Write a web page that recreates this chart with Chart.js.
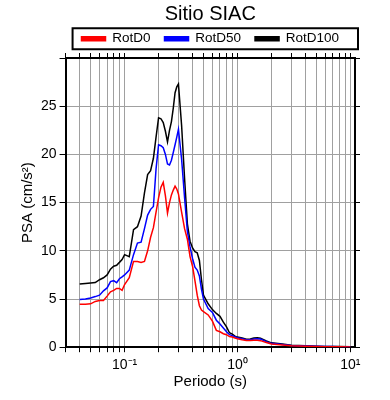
<!DOCTYPE html>
<html><head><meta charset="utf-8">
<script src="https://cdn.jsdelivr.net/npm/chart.js@4.4.1/dist/chart.umd.min.js"></script>
<style>html,body{margin:0;padding:0;background:#fff;}</style>
</head><body>
<canvas id="c" width="390" height="400"></canvas>
<script>
const periods = [0.04,0.045,0.05,0.055,0.06,0.065,0.07,0.075,0.08,0.085,0.09,0.095,
  0.1,0.11,0.12,0.13,0.14,0.15,0.16,0.17,0.18,0.19,0.2,0.21,0.22,0.23,0.24,0.25,0.26,0.27,0.28,0.29,0.3,
  0.32,0.34,0.36,0.38,0.4,0.42,0.44,0.46,0.48,0.5,
  0.55,0.6,0.65,0.7,0.75,0.8,0.85,0.9,0.95,
  1.0,1.1,1.2,1.3,1.4,1.5,1.6,1.8,2.0,2.5,3.0,3.5,4.0,5.0,6.0,7.0,8.0,10];
const rotD0 = [4.45,4.45,4.5,4.75,4.85,4.85,5.3,5.75,5.9,6.1,6.1,5.9,
  6.5,7.2,8.9,8.9,8.8,8.9,10.0,11.4,12.4,14.0,15.5,16.6,17.1,15.7,13.9,15.0,15.8,16.3,16.7,16.4,15.9,
  14.0,12.3,11.2,9.4,8.4,6.9,5.4,4.3,3.85,3.7,
  3.35,2.7,1.75,1.6,1.4,1.3,1.1,1.05,0.95,
  0.88,0.78,0.7,0.7,0.72,0.72,0.68,0.48,0.34,0.24,0.16,0.12,0.1,0.07,0.05,0.05,0.04,0.03];
const rotD50 = [4.95,5.0,5.1,5.25,5.4,5.85,6.15,6.8,6.9,6.7,7.1,7.3,
  7.5,8.0,9.6,10.8,10.9,12.3,13.7,14.3,14.6,18.5,21.0,20.9,20.7,20.0,19.0,18.9,19.4,20.2,21.0,21.8,22.6,
  19.5,15.5,12.0,10.4,9.2,8.3,8.0,7.4,6.0,5.0,
  4.0,3.6,2.8,2.4,2.0,1.6,1.3,1.2,1.08,
  0.98,0.88,0.78,0.78,0.85,0.88,0.84,0.58,0.4,0.28,0.18,0.15,0.12,0.09,0.07,0.06,0.05,0.04];
const rotD100 = [6.55,6.6,6.65,6.7,7.0,7.2,7.5,8.1,8.4,8.5,8.8,9.1,
  9.6,9.4,12.2,12.5,13.6,16.0,17.9,18.3,19.6,21.8,23.8,23.7,23.3,22.4,21.3,22.5,23.4,24.8,26.4,27.0,27.3,
  23.0,17.5,12.8,11.0,10.3,9.9,9.8,9.0,7.0,5.4,
  4.5,3.9,3.5,3.2,2.6,2.1,1.5,1.35,1.15,
  1.05,0.95,0.82,0.85,0.95,0.97,0.92,0.65,0.45,0.33,0.21,0.17,0.14,0.1,0.08,0.07,0.06,0.05];

const xTickValues = [0.03,0.04,0.05,0.06,0.07,0.08,0.09,0.1,0.2,0.3,0.4,0.5,0.6,0.7,0.8,0.9,1,2,3,4,5,6,7,8,9,10];
const xTickLabels = [[0.1,'10\u207B\u00B9'],[1,'10\u2070'],[10,'10\u00B9']];
const yTickValues = [0,5,10,15,20,25,30];
const yTickLabels = ['0','5','10','15','20','25',''];

const FONT = "'Liberation Sans', Arial, Helvetica, sans-serif";
Chart.defaults.font.family = FONT;
Chart.defaults.color = '#000';

function xLabel(v){
  for (const [t,l] of xTickLabels) if (Math.abs(v - t) < 1e-9) return l;
  return '';
}
const toPts = arr => periods.map((p,i)=>({x:p, y:arr[i]}));

const legendFrame = {
  id:'legendFrame',
  afterDraw(chart){
    const lg = chart.legend, ca = chart.chartArea, ctx = chart.ctx;
    if (!lg || !lg.legendHitBoxes || !lg.legendHitBoxes.length) return;
    const hb = lg.legendHitBoxes[0];
    const cy = hb.top + hb.height/2;
    ctx.save();
    ctx.strokeStyle = '#000'; ctx.lineWidth = 2;
    ctx.strokeRect(ca.left + 7, cy - 10.5, ca.right - ca.left - 4, 21);
    ctx.restore();
  }
};

const gridGray = '#a0a0a0';
new Chart(document.getElementById('c'), {
  type:'line',
  data:{
    datasets:[
      {label:'RotD0', data:toPts(rotD0), borderColor:'#ff0000', backgroundColor:'#ff0000', borderWidth:1.5, pointRadius:0, tension:0, xAxisID:'x', yAxisID:'y'},
      {label:'RotD50', data:toPts(rotD50), borderColor:'#0000ff', backgroundColor:'#0000ff', borderWidth:1.5, pointRadius:0, tension:0, xAxisID:'x', yAxisID:'y'},
      {label:'RotD100', data:toPts(rotD100), borderColor:'#000000', backgroundColor:'#000000', borderWidth:1.5, pointRadius:0, tension:0, xAxisID:'x', yAxisID:'y'}
    ]
  },
  options:{
    responsive:false, animation:false, devicePixelRatio:1,
    layout:{padding:{left:19, right:30, top:0, bottom:7}},
    plugins:{
      title:{display:true, text:'Sitio SIAC', fullSize:false, color:'#000', font:{size:20, weight:'normal'}, padding:{top:2, bottom:-8}},
      legend:{display:true, position:'top', fullSize:false, maxHeight:35,
        labels:{boxWidth:24, boxHeight:4, padding:14, color:'#000', font:{size:13.5}}},
      tooltip:{enabled:false}
    },
    scales:{
      x:{type:'logarithmic', position:'bottom', min:0.03, max:11,
        afterBuildTicks: s => { s.ticks = xTickValues.map(v=>({value:v})); },
        ticks:{autoSkip:false, maxRotation:0, padding:5, color:'#000', font:{size:14}, callback:(v)=>xLabel(v)},
        grid:{color:gridGray, lineWidth:1, tickLength:5, tickColor:'#000'},
        border:{color:'#000', width:2},
        title:{display:true, text:'Periodo (s)', color:'#000', font:{size:15}, padding:{top:-6, bottom:2}}},
      x2:{type:'logarithmic', position:'top', min:0.03, max:11,
        afterBuildTicks: s => { s.ticks = xTickValues.map(v=>({value:v})); },
        ticks:{display:false},
        grid:{drawOnChartArea:false, tickLength:5, tickColor:'#000'},
        border:{color:'#000', width:2}},
      y:{type:'linear', position:'left', min:0, max:30,
        afterBuildTicks: s => { s.ticks = yTickValues.map(v=>({value:v})); },
        ticks:{padding:3, color:'#000', font:{size:14}, callback:(v,i)=>yTickLabels[i]},
        grid:{color:gridGray, lineWidth:1, tickLength:6, tickColor:'#000'},
        border:{color:'#000', width:2},
        title:{display:true, text:'PSA (cm/s\u00B2)', color:'#000', font:{size:15}, padding:{top:0, bottom:1}}},
      y2:{type:'linear', position:'right', min:0, max:30,
        afterBuildTicks: s => { s.ticks = yTickValues.map(v=>({value:v})); },
        ticks:{display:false},
        grid:{drawOnChartArea:false, tickLength:5, tickColor:'#000'},
        border:{color:'#000', width:2}}
    }
  },
  plugins:[legendFrame]
});
</script>
</body></html>
